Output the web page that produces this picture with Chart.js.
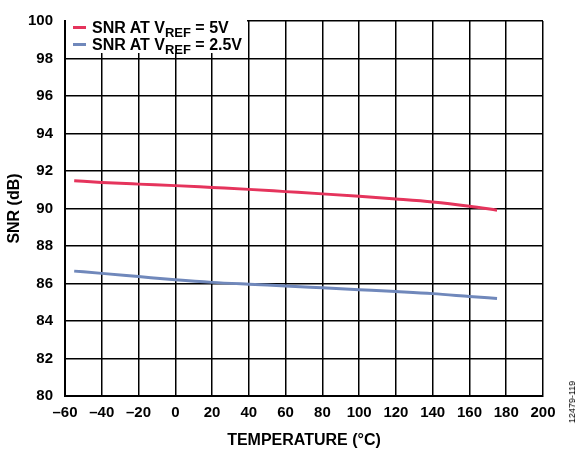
<!DOCTYPE html>
<html lang="en">
<head>
    <meta charset="UTF-8">
    <title>SNR vs Temperature</title>
    <script src="https://cdn.jsdelivr.net/npm/chart.js"></script>
    <style>
        body {
            margin: 0;
            background: #fff;
            font-family: "Liberation Sans", Arial, sans-serif;
        }

        .wrap {
            position: relative;
            width: 585px;
            height: 452px;
        }

        .legend {
            position: absolute;
            left: 66px;
            top: 15px;
            width: 181px;
            height: 38px;
            background: #fff;
            font-weight: bold;
            font-size: 16px;
            color: #000;
        }

        .legend .row {
            position: absolute;
            left: 7px;
            white-space: nowrap;
            line-height: 16px;
        }

        .legend .mark {
            display: inline-block;
            width: 13px;
            height: 3px;
            margin-right: 6px;
            vertical-align: 4px;
        }

        .legend sub {
            font-size: 13px;
            vertical-align: -4px;
            line-height: 0;
        }

        .fig-id {
            position: absolute;
            left: 572px;
            top: 402px;
            transform: translate(-50%, -50%) rotate(-90deg);
            font-size: 9px;
            color: #000;
            white-space: nowrap;
        }
    </style>
</head>
<body>
    <div class="wrap">
        <canvas id="snrChart" width="585" height="452"></canvas>
        <div class="legend">
            <div class="row" style="top:5px"><span class="mark" style="background:#e5345c"></span>SNR AT V<sub>REF</sub> = 5V</div>
            <div class="row" style="top:22px"><span class="mark" style="background:#7088bb"></span>SNR AT V<sub>REF</sub> = 2.5V</div>
        </div>
        <div class="fig-id">12479-119</div>
    </div>

    <script>
        // temperature points (°C)
        const temps = [-55, -40, -20, 0, 20, 40, 60, 80, 100, 120, 140, 160, 175];
        // SNR (dB)
        const snrVref5 = [91.48, 91.39, 91.30, 91.22, 91.12, 91.02, 90.90, 90.78, 90.65, 90.51, 90.35, 90.12, 89.91];
        const snrVref25 = [86.66, 86.54, 86.37, 86.20, 86.06, 85.96, 85.87, 85.77, 85.67, 85.57, 85.46, 85.31, 85.20];

        const xTicks = { min: -60, max: 200, step: 20 };
        const yTicks = { min: 80, max: 100, step: 2 };

        const toPoints = vals => temps.map((t, i) => ({ x: t, y: vals[i] }));

        const tickFont = { family: '"Liberation Sans", Arial', size: 15, weight: 'bold' };
        const titleFont = { family: '"Liberation Sans", Arial', size: 16, weight: 'bold' };

        new Chart(document.getElementById('snrChart'), {
            type: 'line',
            data: {
                datasets: [
                    {
                        label: 'SNR AT VREF = 5V',
                        data: toPoints(snrVref5),
                        borderColor: '#e5345c',
                        borderWidth: 3,
                        pointRadius: 0,
                        cubicInterpolationMode: 'monotone'
                    },
                    {
                        label: 'SNR AT VREF = 2.5V',
                        data: toPoints(snrVref25),
                        borderColor: '#7088bb',
                        borderWidth: 3,
                        pointRadius: 0,
                        cubicInterpolationMode: 'monotone'
                    }
                ]
            },
            options: {
                responsive: false,
                devicePixelRatio: 1,
                animation: false,
                layout: { padding: { left: 0, right: 42, top: 14, bottom: 0 } },
                plugins: {
                    legend: { display: false },
                    tooltip: { enabled: false }
                },
                scales: {
                    x: {
                        type: 'linear',
                        min: xTicks.min,
                        max: xTicks.max,
                        afterFit: s => { s.height = 56; },
                        ticks: {
                            stepSize: xTicks.step,
                            color: '#000',
                            font: tickFont,
                            padding: 8,
                            maxRotation: 0,
                            callback: v => String(v).replace('-', '\u2013')
                        },
                        grid: { color: '#000', lineWidth: 1.5, drawTicks: false },
                        border: { color: '#000', width: 2 },
                        title: {
                            display: true,
                            text: 'TEMPERATURE (°C)',
                            color: '#000',
                            font: titleFont,
                            padding: { top: 0, bottom: 2 }
                        }
                    },
                    y: {
                        min: yTicks.min,
                        max: yTicks.max,
                        afterFit: s => { s.width = 65; },
                        ticks: {
                            stepSize: yTicks.step,
                            color: '#000',
                            font: tickFont,
                            padding: 12
                        },
                        grid: { color: '#000', lineWidth: 1.5, drawTicks: false },
                        border: { color: '#000', width: 2 },
                        title: {
                            display: true,
                            text: 'SNR (dB)',
                            color: '#000',
                            font: titleFont,
                            padding: { top: 5, bottom: 0 }
                        }
                    }
                }
            }
        });
    </script>
</body>
</html>
